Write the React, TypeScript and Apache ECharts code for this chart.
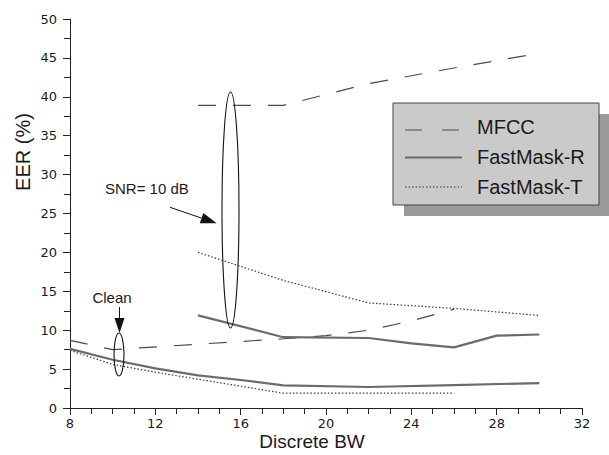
import React, { useEffect, useRef } from "react";
import * as echarts from "echarts";

// Discrete BW positions and EER (%) values
const bwMfccClean = [8, 10, 14, 18, 20, 22, 24, 26];
const mfccClean = [8.7, 7.5, 8.2, 8.9, 9.3, 10.0, 11.2, 12.7];
const bwRClean = [8, 10, 12, 14, 16, 18, 22, 26, 30];
const fastRClean = [7.6, 6.2, 5.1, 4.2, 3.6, 2.9, 2.7, 2.95, 3.2];
const bwTClean = [8, 10, 12, 14, 16, 18, 22, 26];
const fastTClean = [7.4, 5.6, 4.6, 3.7, 2.8, 1.9, 1.9, 1.9];

const bwMfccNoisy = [14, 18, 22, 26, 30];
const mfccNoisy = [38.9, 38.9, 41.7, 43.7, 45.6];
const bwRNoisy = [14, 18, 22, 24, 26, 28, 30];
const fastRNoisy = [11.9, 9.1, 9.0, 8.3, 7.8, 9.3, 9.45];
const bwTNoisy = [14, 18, 22, 26, 30];
const fastTNoisy = [20.0, 16.4, 13.5, 12.8, 11.9];

const legendNames = ["MFCC", "FastMask-R", "FastMask-T"];

const pair = (xs: number[], ys: number[]) => xs.map((x, i) => [x, ys[i]]);

const MFCC_STYLE = { color: "#4a4a4a", width: 1.2, type: [18, 17] as any };
const R_STYLE = { color: "#6b6b6b", width: 2.2, type: "solid" as any };
const T_STYLE = { color: "#3a3a3a", width: 1.2, type: [1.5, 2] as any };

export default function App() {
  const ref = useRef<HTMLDivElement>(null);
  useEffect(() => {
    document.body.style.margin = "0";
    const chart = echarts.init(ref.current!, undefined, { renderer: "svg" });
    const mk = (name: string, data: number[][], ls: any) => ({
      name,
      type: "line",
      data,
      symbol: "none",
      lineStyle: ls,
      itemStyle: { color: ls.color },
      z: 2,
    });
    // arrow helper for SNR arrow
    const tip = [216.7, 223.3];
    const tail = [170, 207.3];
    const dx = tip[0] - tail[0];
    const dy = tip[1] - tail[1];
    const L = Math.sqrt(dx * dx + dy * dy);
    const ux = dx / L;
    const uy = dy / L;
    const hl = 16;
    const hw = 5.5;
    const bx = tip[0] - hl * ux;
    const by = tip[1] - hl * uy;
    const px = -uy;
    const py = ux;

    const option: any = {
      animation: false,
      backgroundColor: "#ffffff",
      grid: { left: 70, right: 27, top: 19, bottom: 47, containLabel: false },
      xAxis: {
        type: "value",
        min: 8,
        max: 32,
        interval: 4,
        axisLine: { show: true, onZero: false, lineStyle: { color: "#222", width: 1 } },
        axisTick: { show: true, length: 7, lineStyle: { color: "#222" } },
        minorTick: { show: true, splitNumber: 4, length: 6, lineStyle: { color: "#222" } },
        splitLine: { show: false },
        axisLabel: {
          color: "#1a1a1a",
          fontSize: 13,
          fontFamily: "DejaVu Sans",
          margin: 8,
          lineHeight: 14,
        },
      },
      yAxis: {
        type: "value",
        min: 0,
        max: 50,
        interval: 5,
        axisLine: { show: true, lineStyle: { color: "#222", width: 1 } },
        axisTick: { show: true, length: 7, lineStyle: { color: "#222" } },
        minorTick: { show: true, splitNumber: 2, length: 6, lineStyle: { color: "#222" } },
        splitLine: { show: false },
        axisLabel: {
          color: "#1a1a1a",
          fontSize: 13,
          fontFamily: "DejaVu Sans",
          margin: 13,
        },
      },
      series: [
        mk(legendNames[0], pair(bwMfccClean, mfccClean), MFCC_STYLE),
        mk(legendNames[1], pair(bwRClean, fastRClean), R_STYLE),
        mk(legendNames[2], pair(bwTClean, fastTClean), T_STYLE),
        mk(legendNames[0], pair(bwMfccNoisy, mfccNoisy), MFCC_STYLE),
        mk(legendNames[1], pair(bwRNoisy, fastRNoisy), R_STYLE),
        mk(legendNames[2], pair(bwTNoisy, fastTNoisy), T_STYLE),
      ],
      graphic: [
        // axis names
        {
          type: "text",
          x: 23,
          y: 152,
          rotation: Math.PI / 2,
          style: {
            text: "EER (%)",
            fontSize: 20,
            fontFamily: "Liberation Sans",
            fill: "#1a1a1a",
            textAlign: "center",
            textVerticalAlign: "middle",
          },
        },
        {
          type: "text",
          x: 312,
          y: 441,
          style: {
            text: "Discrete BW",
            fontSize: 19,
            fontFamily: "Liberation Sans",
            fill: "#1a1a1a",
            textAlign: "center",
            textVerticalAlign: "middle",
            lineHeight: 19,
          },
        },
        // annotations
        {
          type: "text",
          x: 112,
          y: 297,
          style: {
            text: "Clean",
            fontSize: 15,
            fontFamily: "Liberation Sans",
            fill: "#1a1a1a",
            textAlign: "center",
            textVerticalAlign: "middle",
          },
        },
        {
          type: "line",
          shape: { x1: 119.5, y1: 307, x2: 119.5, y2: 320 },
          style: { stroke: "#111", lineWidth: 1 },
        },
        {
          type: "polygon",
          shape: { points: [[114.5, 318], [124.5, 318], [119.5, 333]] },
          style: { fill: "#111" },
        },
        {
          type: "ellipse",
          shape: { cx: 119, cy: 354.5, rx: 5, ry: 21.5 },
          style: { fill: "none", stroke: "#111", lineWidth: 1.1 },
          z: 10,
        },
        {
          type: "text",
          x: 105,
          y: 188,
          style: {
            text: "SNR= 10 dB",
            fontSize: 15,
            fontFamily: "Liberation Sans",
            fill: "#1a1a1a",
            textAlign: "left",
            textVerticalAlign: "middle",
          },
        },
        {
          type: "line",
          shape: { x1: tail[0], y1: tail[1], x2: bx, y2: by },
          style: { stroke: "#111", lineWidth: 1 },
        },
        {
          type: "polygon",
          shape: {
            points: [
              [tip[0], tip[1]],
              [bx + hw * px, by + hw * py],
              [bx - hw * px, by - hw * py],
            ],
          },
          style: { fill: "#111" },
        },
        {
          type: "ellipse",
          shape: { cx: 230.5, cy: 210, rx: 8.5, ry: 118 },
          style: { fill: "none", stroke: "#111", lineWidth: 1.1 },
          z: 10,
        },
        // legend
        {
          type: "rect",
          shape: { x: 404, y: 114, width: 206, height: 102 },
          style: { fill: "#9a9a9a" },
          z: 20,
        },
        {
          type: "rect",
          shape: { x: 393, y: 103, width: 206, height: 102 },
          style: { fill: "#cacaca", stroke: "#444", lineWidth: 1 },
          z: 21,
        },
        {
          type: "line",
          shape: { x1: 405, y1: 130, x2: 462, y2: 130 },
          style: { stroke: MFCC_STYLE.color, lineWidth: 1.2, lineDash: [17, 20] },
          z: 22,
        },
        {
          type: "line",
          shape: { x1: 405, y1: 157.5, x2: 462, y2: 157.5 },
          style: { stroke: R_STYLE.color, lineWidth: 2 },
          z: 22,
        },
        {
          type: "line",
          shape: { x1: 405, y1: 187, x2: 462, y2: 187 },
          style: { stroke: T_STYLE.color, lineWidth: 1.1, lineDash: [1.5, 2] },
          z: 22,
        },
        ...legendNames.map((n, i) => ({
          type: "text",
          x: 477,
          y: [126.5, 157, 186.5][i],
          z: 22,
          style: {
            text: n,
            fontSize: 20,
            fontFamily: "Liberation Sans",
            fill: "#1a1a1a",
            textAlign: "left",
            textVerticalAlign: "middle",
          },
        })),
      ],
    };
    chart.setOption(option);
    return () => chart.dispose();
  }, []);
  return (
    <div
      ref={ref}
      style={{ position: "absolute", left: 0, top: 0, width: 609, height: 455 }}
    />
  );
}
